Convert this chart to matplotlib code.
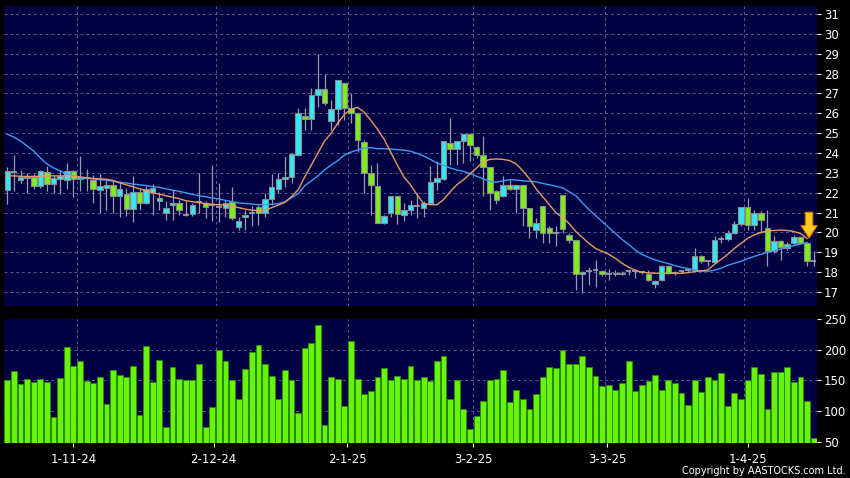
import numpy as np
import matplotlib
matplotlib.use("Agg")
import matplotlib.pyplot as plt

# ---- data ----
opens = [22.15, 23.05, 22.65, 22.80, 22.78, 22.34, 23.03, 22.44, 22.70, 22.64,
         23.10, 22.70, 22.72, 22.64, 22.14, 22.25, 22.40, 21.85, 21.94, 21.18,
         22.02, 21.49, 22.04, 21.57, 20.98, 21.39, 21.49, 20.90, 20.95, 21.52,
         21.49, 21.37, 21.30, 21.25, 21.55, 20.29, 20.80, 21.00, 21.30, 21.00,
         21.67, 22.17, 22.67, 22.78, 23.90, 25.86, 25.70, 26.92, 27.20, 25.60,
         26.20, 27.50, 26.25, 26.00, 24.57, 22.97, 22.35, 20.50, 21.00, 21.84,
         20.90, 21.12, 21.32, 21.23, 21.49, 22.53, 22.70, 24.50, 24.20, 24.62,
         24.96, 24.29, 23.92, 23.28, 22.07, 21.82, 22.38, 22.20, 22.38, 21.23,
         20.14, 21.32, 20.23, 19.98, 21.90, 19.89, 19.60, 17.93, 18.08, 18.10,
         18.06, 17.92, 17.90, 17.90, 18.06, 18.06, 18.02, 17.93, 17.42, 17.62,
         18.30, 17.96, 18.05, 18.10, 18.13, 18.80, 18.55, 18.52, 19.67, 19.67,
         19.98, 20.43, 21.29, 20.40, 20.98, 20.23, 19.05, 19.56, 19.22, 19.47,
         19.77, 19.47, 18.55]
highs = [23.30, 23.90, 23.15, 23.00, 22.95, 23.15, 23.35, 22.90, 23.15, 23.50,
         23.15, 23.85, 23.20, 22.90, 22.95, 22.64, 22.64, 22.56, 22.24, 22.83,
         22.24, 22.35, 22.46, 22.02, 21.57, 22.16, 21.65, 21.65, 21.49, 23.00,
         21.60, 23.40, 22.47, 21.63, 22.30, 20.76, 21.13, 21.33, 21.38, 21.97,
         22.94, 22.98, 23.82, 24.00, 26.25, 26.25, 27.25, 29.00, 28.00, 26.67,
         27.70, 27.50, 27.00, 26.00, 24.65, 23.40, 23.48, 20.87, 21.84, 21.84,
         21.50, 21.65, 22.00, 21.57, 23.33, 23.60, 24.60, 25.77, 24.60, 24.96,
         25.00, 24.35, 24.84, 23.28, 22.16, 22.83, 22.66, 22.38, 22.38, 21.23,
         20.73, 21.32, 20.31, 20.31, 21.90, 19.98, 19.60, 18.05, 18.27, 18.60,
         18.13, 18.14, 18.10, 18.05, 18.15, 18.15, 18.08, 18.13, 17.62, 18.35,
         18.35, 18.05, 18.13, 18.15, 19.22, 18.88, 18.63, 19.80, 19.80, 20.14,
         20.56, 21.29, 21.74, 21.15, 21.10, 21.13, 19.80, 19.64, 19.50, 19.89,
         19.80, 19.50, 19.05]
lows = [21.45, 22.10, 22.50, 22.00, 22.20, 22.25, 22.10, 22.00, 21.95, 22.20,
        21.80, 22.10, 22.10, 21.50, 21.00, 21.13, 20.96, 20.80, 20.82, 20.51,
        21.12, 21.45, 20.90, 21.12, 20.65, 20.65, 20.90, 20.82, 20.82, 21.00,
        20.72, 20.56, 20.54, 20.80, 20.63, 20.12, 20.12, 20.33, 20.37, 20.80,
        21.38, 21.98, 22.30, 22.50, 23.85, 25.15, 25.15, 26.33, 26.40, 25.16,
        25.41, 25.66, 25.50, 24.07, 22.00, 20.90, 20.46, 20.45, 20.80, 20.45,
        20.60, 20.90, 20.73, 20.80, 21.45, 22.16, 22.65, 23.42, 23.42, 23.50,
        23.58, 23.75, 21.82, 21.15, 21.45, 21.80, 22.16, 21.00, 20.31, 19.72,
        19.72, 19.47, 19.47, 19.30, 19.98, 19.47, 17.12, 16.96, 17.35, 17.27,
        17.80, 17.60, 17.80, 17.85, 17.88, 17.70, 17.90, 17.55, 17.20, 17.58,
        17.92, 17.86, 17.96, 18.00, 18.10, 18.47, 18.30, 18.47, 19.47, 19.55,
        19.90, 20.31, 20.11, 20.14, 19.98, 18.30, 18.97, 18.63, 19.14, 19.38,
        19.42, 18.30, 18.30]
closes = [23.10, 23.05, 22.80, 22.75, 22.34, 23.10, 22.44, 22.73, 22.85, 23.10,
          22.70, 22.80, 22.80, 22.17, 22.34, 22.40, 21.85, 22.20, 21.18, 22.02,
          21.49, 22.19, 22.24, 21.74, 21.23, 21.49, 21.12, 20.90, 21.40, 21.52,
          21.29, 21.37, 21.30, 21.50, 20.75, 20.57, 20.90, 21.00, 21.00, 21.67,
          22.28, 22.67, 22.80, 23.95, 26.00, 25.70, 26.92, 27.20, 26.50, 26.20,
          27.70, 26.25, 26.00, 24.65, 22.97, 22.39, 20.46, 20.84, 21.84, 20.93,
          21.15, 21.40, 21.32, 21.49, 22.53, 22.75, 24.60, 24.20, 24.60, 24.96,
          24.39, 23.92, 23.28, 21.99, 21.65, 22.38, 22.20, 22.38, 21.23, 20.31,
          20.48, 19.98, 19.98, 19.98, 20.18, 19.60, 17.93, 18.00, 18.08, 18.10,
          17.90, 17.92, 17.98, 17.98, 18.06, 18.06, 18.02, 17.60, 17.56, 18.30,
          17.96, 17.96, 18.05, 18.10, 18.80, 18.55, 18.55, 19.60, 19.67, 19.98,
          20.43, 21.29, 20.40, 20.98, 20.64, 19.05, 19.56, 19.27, 19.42, 19.77,
          19.47, 18.55, 18.55]
ma_short = [22.85, 22.85, 22.83, 22.82, 22.82, 22.83, 22.85, 22.85, 22.85, 22.85,
            22.83, 22.80, 22.75, 22.72, 22.70, 22.68, 22.62, 22.50, 22.40, 22.30,
            22.20, 22.10, 22.00, 21.93, 21.85, 21.78, 21.70, 21.60, 21.55, 21.50,
            21.45, 21.42, 21.40, 21.38, 21.33, 21.25, 21.18, 21.12, 21.10, 21.12,
            21.25, 21.38, 21.52, 21.80, 22.15, 22.80, 23.40, 24.00, 24.60, 25.00,
            25.50, 25.95, 26.20, 26.30, 26.05, 25.65, 25.20, 24.70, 24.05, 23.40,
            22.80, 22.40, 21.90, 21.45, 21.40, 21.40, 21.65, 22.05, 22.40, 22.65,
            22.95, 23.25, 23.55, 23.68, 23.70, 23.68, 23.62, 23.45, 23.10, 22.70,
            22.20, 21.80, 21.40, 21.00, 20.75, 20.45, 20.05, 19.75, 19.45, 19.20,
            19.05, 18.90, 18.70, 18.45, 18.25, 18.10, 18.00, 17.97, 17.95, 17.94,
            17.94, 17.94, 17.95, 17.98, 18.03, 18.07, 18.12, 18.40, 18.65, 18.90,
            19.20, 19.45, 19.70, 19.88, 20.00, 20.08, 20.10, 20.12, 20.10, 20.05,
            19.95, 19.70]
ma_long = [24.95, 24.80, 24.60, 24.35, 24.10, 23.75, 23.45, 23.25, 23.10, 22.95,
           22.85, 22.75, 22.72, 22.70, 22.66, 22.63, 22.58, 22.53, 22.49, 22.44,
           22.40, 22.36, 22.31, 22.27, 22.20, 22.13, 22.07, 22.00, 21.92, 21.85,
           21.80, 21.74, 21.69, 21.62, 21.55, 21.49, 21.46, 21.43, 21.40, 21.40,
           21.42, 21.45, 21.55, 21.75, 21.95, 22.35, 22.60, 22.85, 23.15, 23.40,
           23.62, 23.90, 24.05, 24.15, 24.25, 24.27, 24.22, 24.22, 24.20, 24.17,
           24.14, 24.09, 23.98, 23.85, 23.68, 23.50, 23.38, 23.25, 23.15, 23.08,
           22.97, 22.83, 22.70, 22.58, 22.53, 22.60, 22.66, 22.64, 22.60, 22.58,
           22.55, 22.47, 22.40, 22.33, 22.25, 22.05, 21.85, 21.50, 21.15, 20.85,
           20.55, 20.25, 19.95, 19.65, 19.40, 19.12, 18.90, 18.75, 18.62, 18.52,
           18.44, 18.33, 18.25, 18.18, 18.12, 18.06, 18.05, 18.10, 18.20, 18.35,
           18.45, 18.55, 18.68, 18.80, 18.90, 19.00, 19.08, 19.17, 19.25, 19.34,
           19.42, 19.50]
volumes = [150, 165, 144, 152, 147, 153, 148, 91, 154, 205,
           174, 181, 149, 146, 156, 111, 167, 158, 156, 174,
           93, 206, 147, 183, 74, 172, 152, 151, 151, 177,
           74, 106, 200, 182, 151, 119, 168, 197, 207, 177,
           157, 120, 167, 150, 97, 202, 211, 241, 78, 156,
           152, 108, 214, 152, 128, 133, 155, 170, 150, 157,
           153, 174, 151, 155, 149, 182, 190, 119, 150, 103,
           71, 92, 116, 151, 152, 167, 114, 134, 120, 103,
           128, 155, 172, 170, 200, 177, 177, 190, 171, 157,
           141, 142, 135, 146, 182, 132, 143, 149, 159, 135,
           150, 145, 130, 110, 150, 131, 156, 150, 162, 109,
           130, 120, 151, 171, 161, 104, 163, 164, 171, 147,
           155, 117, 56]
tick_pos = [10.0, 31.2, 51.4, 70.5, 90.8, 112.0]
tick_labels = ["1-11-24", "2-12-24", "2-1-25", "3-2-25", "3-3-25", "1-4-25"]
month_lines = [10.5, 31.5, 51.5, 70.5, 90.5, 111.5]
price_ticks = list(range(17, 32))
vol_ticks = [50, 100, 150, 200, 250]

# ---- style ----
panel_bg = "#000042"
grid_c = "#5c5c92"
up_c = "#33e8f5"
down_c = "#7ded1c"
edge_c = "#8c8c8c"
wick_c = "#9a9aa8"

x = np.arange(len(closes))
o = np.array(opens)
h = np.array(highs)
l = np.array(lows)
c = np.array(closes)

fig = plt.figure(figsize=(8.5, 4.78), dpi=100, facecolor="black")
ax1 = fig.add_axes([4/850, 1-306/478, 813/850, 300/478], facecolor=panel_bg)
ax2 = fig.add_axes([4/850, 1-443/478, 813/850, 124/478], facecolor=panel_bg)

def style_axis(ax):
    for s in ax.spines.values():
        s.set_visible(False)
    ax.yaxis.tick_right()
    ax.tick_params(axis="y", colors="white", labelsize=8.5, length=3, width=0.8, pad=2)
    ax.tick_params(axis="x", colors="white", labelsize=8.5, length=3, width=0.8, pad=4)
    for v in month_lines:
        ax.axvline(v, color=grid_c, lw=0.7, ls=(0, (3, 3)), zorder=0)

# price panel
style_axis(ax1)
for p in price_ticks:
    ax1.axhline(p, color=grid_c, lw=0.7, ls=(0, (3, 3)), zorder=0)
ax1.vlines(x, l, h, color=wick_c, lw=0.9, zorder=1)
up = c > o
dn = c < o
flat = c == o
ax1.bar(x[up], (c - o)[up], bottom=o[up], width=0.84, color=up_c,
        edgecolor=edge_c, linewidth=0.8, zorder=2)
ax1.bar(x[dn], (o - c)[dn], bottom=c[dn], width=0.84, color=down_c,
        edgecolor=edge_c, linewidth=0.8, zorder=2)
ax1.hlines(c[flat], x[flat] - 0.42, x[flat] + 0.42, color=wick_c, lw=1.3, zorder=2)
ax1.plot(x[:len(ma_long)], ma_long, color="#3d9cf0", lw=1.0, zorder=3)
ax1.plot(x[:len(ma_short)], ma_short, color="#e89a62", lw=1.0, zorder=3)

# signal arrow over the last-but-one candle
ax1.annotate("", xy=(x[-2] + 0.3, o[-2] + 0.25), xytext=(x[-2] + 0.3, o[-2] + 1.55),
             arrowprops=dict(arrowstyle="simple,head_width=1.3,head_length=1.0,tail_width=0.6",
                             fc="#ffc81e", ec="#d07a00", lw=0.8,
                             shrinkA=0, shrinkB=0, mutation_scale=9), zorder=5)

ax1.set_xlim(-0.5, len(x) - 0.5)
ax1.set_ylim(16.3, 31.4)
ax1.set_yticks(price_ticks)
ax1.set_xticks([])

# volume panel
style_axis(ax2)
for v in vol_ticks[1:-1]:
    ax2.axhline(v, color=grid_c, lw=0.7, ls=(0, (3, 3)), zorder=0)
ax2.bar(x, volumes, width=0.88, color="#66f50a", edgecolor="#2e8a00",
        linewidth=0.6, zorder=2)
ax2.set_xlim(-0.5, len(x) - 0.5)
ax2.set_ylim(48, 250)
ax2.set_yticks(vol_ticks)
ax2.set_xticks(tick_pos)
ax2.set_xticklabels(tick_labels)

fig.text(846/850, 1-471/478, "Copyright by AASTOCKS.com Ltd.", color="white",
         fontsize=7.0, ha="right", va="center")

fig.savefig("out.png", dpi=100, facecolor="black")
